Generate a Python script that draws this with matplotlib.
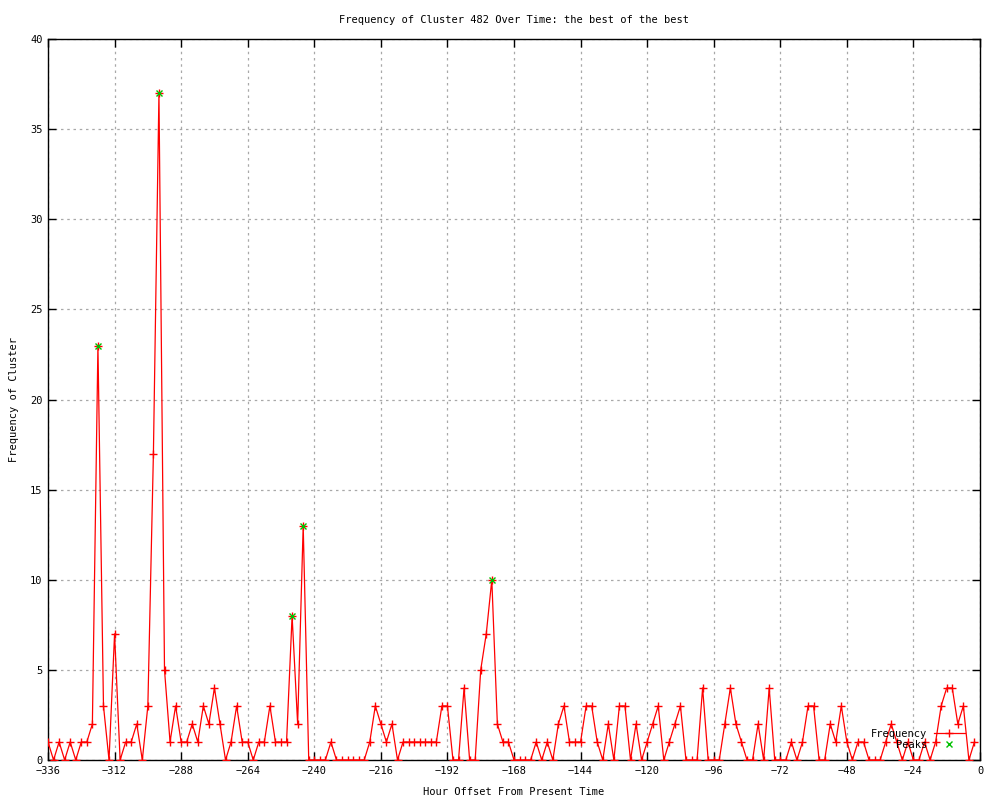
import matplotlib
matplotlib.use("Agg")
import matplotlib.pyplot as plt
import numpy as np

# hourly offsets, one sample every 2 hours
hours = np.arange(-336, 0, 2)
freq = [1, 0, 1, 0, 1, 0, 1, 1, 2, 23, 3, 0, 7, 0, 1, 1, 2, 0, 3, 17,
        37, 5, 1, 3, 1, 1, 2, 1, 3, 2, 4, 2, 0, 1, 3, 1, 1, 0, 1, 1,
        3, 1, 1, 1, 8, 2, 13, 0, 0, 0, 0, 1, 0, 0, 0, 0, 0, 0, 1, 3,
        2, 1, 2, 0, 1, 1, 1, 1, 1, 1, 1, 3, 3, 0, 0, 4, 0, 0, 5, 7,
        10, 2, 1, 1, 0, 0, 0, 0, 1, 0, 1, 0, 2, 3, 1, 1, 1, 3, 3, 1,
        0, 2, 0, 3, 3, 0, 2, 0, 1, 2, 3, 0, 1, 2, 3, 0, 0, 0, 4, 0,
        0, 0, 2, 4, 2, 1, 0, 0, 2, 0, 4, 0, 0, 0, 1, 0, 1, 3, 3, 0,
        0, 2, 1, 3, 1, 0, 1, 1, 0, 0, 0, 1, 2, 1, 0, 1, 0, 0, 1, 0,
        1, 3, 4, 4, 2, 3, 0, 1]

peak_hours = [-318, -296, -248, -244, -176]
peak_values = [23, 37, 8, 13, 10]

xticks = np.arange(-336, 1, 24)
yticks = np.arange(0, 41, 5)

plt.rcParams['font.family'] = ['DejaVu Sans Mono']
fs = 7.5

fig = plt.figure(figsize=(10, 8), dpi=100)
ax = fig.add_axes([0.048, 0.05, 0.932, 0.901])

ax.plot(hours, freq, color='red', lw=0.9, marker='+', ms=6, mew=1.0,
        label='Frequency', zorder=3)
ax.plot(peak_hours, peak_values, ls='none', color='#00c000', marker='x',
        ms=5, mew=1.0, label='Peaks', zorder=4)

ax.set_xlim(-336, 0)
ax.set_ylim(0, 40)
ax.set_xticks(xticks)
ax.set_yticks(yticks)
ax.tick_params(direction='in', top=True, right=True, length=6, width=1,
               labelsize=fs, pad=4)
ax.grid(True, color='#a8a8a8', ls=(0, (2, 3)), lw=0.9)
ax.set_axisbelow(True)
for s in ax.spines.values():
    s.set_linewidth(1)

ax.set_title('Frequency of Cluster 482 Over Time: the best of the best',
             fontsize=fs, pad=12)
ax.set_xlabel('Hour Offset From Present Time', fontsize=fs, labelpad=8)
ax.set_ylabel('Frequency of Cluster', fontsize=fs, labelpad=8)

ax.legend(loc='lower right', bbox_to_anchor=(0.995, 0.0), frameon=False,
          markerfirst=False, fontsize=fs, handlelength=3.0,
          labelspacing=0.1, handletextpad=0.6, borderaxespad=0.6)

fig.savefig('out.png', dpi=100)
